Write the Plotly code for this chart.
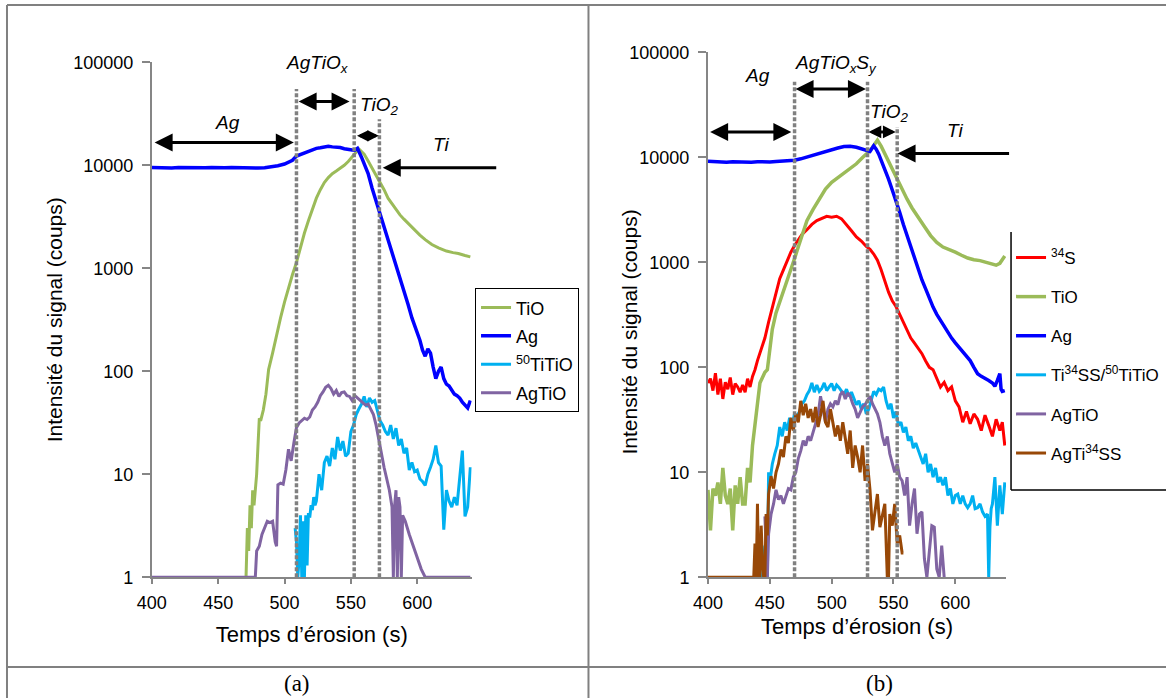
import plotly.graph_objects as go

# ---------------- Panel (a) data ----------------
tA_ag = [400, 405, 410, 415, 420, 425, 430, 435, 440, 445,
         450, 455, 460, 465, 470, 475, 480, 485, 490, 495,
         500, 503, 506, 509, 512, 515, 518, 521, 524, 527,
         530, 533, 536, 539, 542, 545, 548, 551, 553, 555,
         558, 560, 563, 566, 569, 572, 575, 578, 581, 584,
         587, 590, 593, 596, 599, 602, 604, 606, 608, 610,
         612, 614, 616, 618, 620, 622, 624, 626, 628, 630,
         632, 634, 636, 638, 640]
vA_ag = [9500, 9450, 9550, 9400, 9500, 9450, 9500, 9400, 9450, 9500,
         9400, 9450, 9500, 9450, 9400, 9300, 9400, 9450, 9600, 9900,
         10300, 10700, 11200, 12300, 12700, 13100, 13600, 14200, 14600, 14800,
         15100, 15300, 15100, 15000, 14900, 14500, 14200, 14100, 14000, 14600,
         12000, 10500, 8300, 6000, 4500, 3400, 2700, 2000, 1450, 1100,
         850, 620, 450, 330, 260, 200, 160, 140, 165, 150,
         110, 85, 100, 110, 85, 75, 72, 65, 60, 58,
         55, 50, 47, 44, 52]

tA_tio = [471, 472, 473, 474, 475, 476, 477, 478, 479, 480,
          481, 482, 484, 486, 488, 491, 494, 497, 500, 503,
          506, 509, 512, 515, 518, 521, 524, 527, 530, 533,
          536, 539, 542, 545, 548, 551, 554, 556, 558, 560,
          563, 566, 569, 572, 575, 578, 581, 584, 587, 590,
          594, 598, 602, 606, 611, 616, 622, 627, 631, 636,
          640]
vA_tio = [1, 3, 1.8, 5, 3, 7, 5, 7, 10, 19,
          35, 33, 42, 60, 104, 150, 230, 330, 470, 650,
          870, 1140, 1600, 2200, 2900, 3800, 4800, 5800, 6800, 7600,
          8300, 8800, 9300, 10000, 10900, 12200, 13600, 14400, 13600, 12800,
          11000, 9400, 8100, 6900, 5800, 4800, 4200, 3700, 3300, 3000,
          2650, 2350, 2100, 1900, 1700, 1580, 1470, 1420, 1390, 1330,
          1290]

tA_ti50 = [508, 509, 510, 511, 512, 513, 514, 515, 516, 517,
           518, 519, 520, 521, 522, 523, 524, 526, 528, 530,
           532, 534, 536, 538, 540, 542, 544, 546, 548, 550,
           552, 554, 556, 558, 560, 562, 564, 566, 568, 570,
           572, 574, 576, 578, 580, 582, 584, 586, 588, 590,
           592, 594, 596, 598, 600, 602, 604, 606, 608, 610,
           612, 614, 616, 618, 620, 622, 624, 626, 628, 630,
           632, 634, 636, 638, 640]
vA_ti50 = [3, 2.2, 1, 1.5, 4, 1, 3.5, 1, 4, 1.3,
           4.2, 3.8, 5, 4.5, 6, 5, 5.5, 10, 7, 13,
           15, 12, 18, 14, 23, 17, 21, 15, 16, 26,
           30, 38, 43, 48, 57, 45, 55, 50, 52, 40,
           33, 30, 26, 24, 30, 22, 28, 19, 22, 16,
           18, 11, 13, 10.6, 11, 9, 8.5, 7.8, 10, 11.7,
           14, 19, 13, 12, 2.9, 7, 5.5, 4.8, 6, 5,
           10, 17, 3.9, 4.8, 11.7]

tA_agtio = [400, 478, 479, 481, 483, 485, 487, 489, 491, 493,
            494, 495, 497, 499, 501, 503, 505, 507, 509, 511,
            513, 515, 517, 519, 521, 523, 525, 527, 529, 531,
            533, 535, 537, 539, 541, 543, 545, 547, 549, 551,
            553, 555, 557, 559, 561, 563, 565, 567, 569, 571,
            573, 575, 577, 579, 581, 582, 583, 584, 585, 586,
            587, 588, 589, 591, 594, 597, 600, 603, 606, 640]
vA_agtio = [1, 1, 1.8, 2, 2.6, 3, 3.5, 3.4, 3.5, 2.2,
            2, 7.9, 8.2, 8, 11, 17.5, 13.5, 20, 28.5, 31.5,
            33, 35, 34, 36, 42, 45, 50, 58, 63, 70,
            73, 68, 60, 65, 57, 62, 63, 58, 57, 52,
            58, 55, 52, 50, 47, 48, 42, 38, 30, 21,
            16, 11.7, 9, 7, 4.8, 1, 5, 7, 1, 6,
            4.8, 1, 4, 3.5, 2.6, 2, 1.6, 1.2, 1, 1]

# ---------------- Panel (b) data ----------------
tB_s34 = [400, 402, 404, 406, 408, 410, 412, 414, 416, 418,
          420, 422, 424, 426, 428, 430, 432, 434, 436, 438,
          440, 443, 446, 449, 452, 455, 458, 461, 464, 467,
          470, 473, 476, 480, 484, 488, 492, 496, 500, 504,
          508, 512, 516, 520, 524, 528, 531, 534, 537, 540,
          543, 546, 549, 552, 555, 558, 561, 564, 567, 570,
          573, 576, 579, 582, 585, 588, 591, 594, 597, 600,
          603, 606, 609, 612, 615, 618, 621, 624, 627, 630,
          633, 636, 638, 640]
vB_s34 = [71, 78, 60, 88, 55, 78, 50, 72, 62, 80,
          55, 70, 65, 58, 68, 58, 78, 65, 82, 95,
          116, 150, 190, 270, 375, 520, 700, 850, 1050, 1250,
          1450, 1650, 1850, 2050, 2300, 2500, 2600, 2750, 2700, 2750,
          2600, 2300, 2000, 1750, 1600, 1420, 1330, 1200, 1050, 850,
          650, 520, 430, 380, 320, 270, 230, 190, 170, 150,
          135, 115, 100, 95, 80, 65, 72, 60, 65, 48,
          42, 30, 38, 29, 36, 32, 25, 35, 28, 22,
          32, 25, 30, 18]

tB_tio = [400, 402, 404, 406, 408, 410, 412, 414, 416, 418,
          420, 422, 424, 426, 428, 430, 432, 434, 436, 438,
          440, 442, 444, 446, 448, 450, 452, 455, 458, 461,
          464, 467, 470, 473, 476, 480, 485, 490, 495, 500,
          505, 510, 515, 520, 525, 530, 533, 535, 537, 540,
          543, 546, 549, 552, 555, 558, 561, 565, 570, 575,
          580, 585, 590, 595, 600, 605, 610, 615, 620, 625,
          630, 633, 636, 638, 640]
vB_tio = [6.8, 2.8, 7, 6, 8, 5, 11, 6, 5, 7,
          2.8, 7.5, 5, 9, 5, 5, 11, 8, 18, 27,
          45, 71, 80, 90, 95, 150, 230, 330, 415, 550,
          670, 850, 1090, 1400, 1780, 2500, 3200, 4000, 5000, 5800,
          6400, 7000, 7700, 8700, 10000, 11300, 12500, 13600, 14600, 12800,
          10800, 9000, 7600, 6500, 5500, 4700, 4000, 3300, 2650, 2200,
          1800, 1550, 1400, 1330, 1250, 1170, 1100, 1060, 1040, 1000,
          960, 940, 980, 1050, 1150]

tB_ag = [400, 405, 410, 415, 420, 425, 430, 435, 440, 445,
         450, 455, 460, 465, 470, 475, 480, 485, 490, 495,
         500, 505, 510, 515, 520, 525, 528, 531, 534, 536,
         538, 540, 543, 546, 549, 552, 555, 558, 561, 564,
         567, 570, 573, 576, 579, 582, 585, 588, 591, 594,
         597, 600, 603, 606, 609, 612, 615, 618, 621, 624,
         627, 630, 632, 634, 636, 637, 638, 640]
vB_ag = [9200, 9100, 9150, 9000, 9100, 9050, 8950, 9000, 9100, 9000,
         9050, 9150, 9200, 9300, 9400, 9700, 10100, 10500, 11000, 11500,
         11900, 12300, 12700, 12800, 12500, 12000, 11500, 11400, 12900, 12000,
         10800, 9500, 7800, 6200, 4900, 3900, 3000, 2300, 1800, 1400,
         1100, 850, 680, 560, 450, 375, 320, 280, 240, 210,
         190, 171, 155, 141, 128, 116, 100, 87, 82, 79,
         75, 71, 66, 75, 87, 62, 59, 60]

tB_ti = [444, 446, 448, 449, 450, 452, 454, 456, 458, 460,
         462, 464, 466, 468, 470, 472, 474, 476, 478, 480,
         482, 484, 486, 488, 490, 492, 494, 496, 498, 500,
         502, 504, 506, 508, 510, 512, 514, 516, 518, 520,
         522, 524, 526, 528, 530, 532, 534, 536, 538, 540,
         542, 544, 546, 548, 550, 552, 554, 556, 558, 560,
         562, 564, 566, 568, 570, 572, 574, 576, 578, 580,
         582, 584, 586, 588, 590, 592, 594, 596, 598, 600,
         602, 604, 606, 608, 610, 612, 614, 616, 618, 620,
         622, 624, 626, 627, 628, 629, 630, 632, 634, 636,
         638, 640]
vB_ti = [1, 2, 1, 10, 8, 12, 15, 18, 27, 22,
         30, 25, 33, 28, 36, 34, 38, 45, 48, 55,
         60, 71, 58, 68, 59, 63, 71, 60, 65, 70,
         60, 68, 64, 59, 55, 62, 53, 58, 50, 44,
         48, 40, 45, 36, 40, 50, 59, 55, 62, 60,
         65, 48, 40, 45, 33, 38, 28, 30, 24, 27,
         20, 22, 17, 19, 16, 14, 12, 15, 10, 12,
         9, 11, 8, 9, 7.5, 9, 6, 7, 5, 6,
         6.2, 5, 6, 5, 4.6, 5, 6, 4.5, 4.6, 5,
         4.2, 3.8, 4, 1, 3, 4.5, 5, 9, 3.1, 7.5,
         4, 8]

tB_agtio = [446, 447, 448, 449, 451, 453, 455, 457, 459, 461,
            463, 465, 467, 469, 471, 473, 475, 477, 479, 481,
            483, 485, 487, 489, 491, 493, 495, 497, 499, 501,
            503, 505, 507, 509, 511, 513, 515, 517, 519, 521,
            523, 525, 527, 529, 531, 533, 535, 537, 539, 541,
            543, 545, 547, 549, 551, 553, 555, 557, 559, 561,
            563, 565, 567, 569, 571, 573, 575, 577, 579, 581,
            583, 585, 587, 589, 591]
vB_agtio = [3.8, 1.5, 1, 2.6, 4, 5, 6.8, 5.5, 6, 5,
            6, 7, 6.8, 9, 10, 13.5, 16, 20, 18, 22,
            20, 24, 28, 35, 53, 40, 30, 40, 45, 42,
            48, 44, 55, 59, 50, 57, 53, 45, 40, 33,
            38, 42, 44, 48, 53, 45, 40, 36, 30, 22,
            18, 22, 15, 12, 10, 12, 9, 8.3, 6, 9,
            3.1, 5, 7, 2.6, 4, 4.2, 1.5, 1, 1.9, 3.1,
            3, 1.2, 1, 2, 1]

tB_br = [400, 437, 438, 439, 440, 441, 442, 443, 444, 445,
         446, 447, 448, 449, 451, 453, 455, 457, 459, 461,
         463, 465, 467, 469, 471, 473, 475, 477, 479, 481,
         483, 485, 487, 489, 491, 493, 495, 497, 499, 501,
         503, 505, 507, 509, 511, 513, 515, 517, 519, 521,
         523, 525, 527, 529, 531, 533, 535, 537, 539, 541,
         543, 545, 546, 547, 549, 551, 553, 555, 557, 558]
vB_br = [1, 1, 2.1, 1, 5, 1, 1, 3.1, 1.5, 1,
         1, 4, 2.5, 6.2, 9.2, 7, 10, 12, 16.5, 14,
         22, 19, 33, 25, 36, 30, 48, 35, 45, 33,
         40, 30, 42, 27, 35, 48, 30, 27, 40, 30,
         22, 28, 20, 30, 22, 15, 25, 11, 18, 14,
         10, 18, 8.3, 12, 6.8, 2.8, 4.2, 6.2, 3, 4,
         5, 1, 1, 4, 3.1, 5, 2.1, 2.5, 1.7, 1.7]

# zone boundaries (s) and the top of each dashed line (counts)
a_bounds = [509, 552.5, 571.5]
a_tops = [55000, 55000, 28000]
b_bounds = [470, 529, 553]
b_tops = [52500, 52500, 19500]

x_ticks = [400, 450, 500, 550, 600]
y_ticks = [1, 10, 100, 1000, 10000, 100000]
y_ticktext = ["1", "10", "100", "1000", "10000", "100000"]

C_TIO = "#9BBB59"
C_AG = "#0000FF"
C_TI50 = "#00B0F0"
C_AGTIO = "#8064A2"
C_S = "#FF0000"
C_BR = "#984807"
GRAY = "#808080"
FONT = "Liberation Sans, Arial, sans-serif"

fig = go.Figure()


def add(x, y, name, color, xa, ya, legend, width=3):
    fig.add_trace(go.Scatter(
        x=x, y=y, mode="lines", name=name,
        line=dict(color=color, width=width),
        xaxis=xa, yaxis=ya, legend=legend,
        legendgroup=legend + name, showlegend=True,
        hoverinfo="x+y+name"))


add(tA_tio, vA_tio, "TiO", C_TIO, "x", "y", "legend")
add(tA_ag, vA_ag, "Ag", C_AG, "x", "y", "legend", 3.5)
add(tA_ti50, vA_ti50, "<sup>50</sup>TiTiO", C_TI50, "x", "y", "legend")
add(tA_agtio, vA_agtio, "AgTiO", C_AGTIO, "x", "y", "legend")

add(tB_s34, vB_s34, "<sup>34</sup>S", C_S, "x2", "y2", "legend2")
add(tB_tio, vB_tio, "TiO", C_TIO, "x2", "y2", "legend2", 3.5)
add(tB_ag, vB_ag, "Ag", C_AG, "x2", "y2", "legend2", 3.5)
add(tB_ti, vB_ti, "Ti<sup>34</sup>SS/<sup>50</sup>TiTiO", C_TI50, "x2", "y2", "legend2")
add(tB_agtio, vB_agtio, "AgTiO", C_AGTIO, "x2", "y2", "legend2")
add(tB_br, vB_br, "AgTi<sup>34</sup>SS", C_BR, "x2", "y2", "legend2")

# dashed zone boundaries
for xs, tops, xa, ya in [(a_bounds, a_tops, "x", "y"), (b_bounds, b_tops, "x2", "y2")]:
    for xv, top in zip(xs, tops):
        fig.add_trace(go.Scatter(
            x=[xv, xv], y=[1, top], mode="lines", showlegend=False,
            line=dict(color=GRAY, width=3.5, dash="4px,2px"),
            xaxis=xa, yaxis=ya, hoverinfo="skip"))

axis_common = dict(showline=True, linecolor="#868686", linewidth=2,
                   ticks="outside", tickcolor="#868686", tickwidth=2,
                   showgrid=False, zeroline=False,
                   tickfont=dict(family=FONT, size=18, color="black"))

fig.update_layout(
    width=1166, height=698,
    margin=dict(l=0, r=0, t=0, b=0, autoexpand=False),
    paper_bgcolor="white", plot_bgcolor="white",
    font=dict(family=FONT, color="black"),
    xaxis=dict(domain=[0.1302, 0.4045], range=[400, 641], anchor="y",
               tickmode="array", tickvals=x_ticks, ticklen=5,
               ticklabelstandoff=3,
               title=dict(text="Temps d’érosion (s)", font=dict(size=22), standoff=15),
               automargin=True, **axis_common),
    yaxis=dict(domain=[0.1730, 0.9107], type="log", range=[0, 5], anchor="x",
               tickmode="array", tickvals=y_ticks, ticktext=y_ticktext, ticklen=8,
               ticklabelstandoff=5,
               title=dict(text="Intensité du signal (coups)", font=dict(size=21), standoff=5),
               automargin=True, **axis_common),
    xaxis2=dict(domain=[0.6072, 0.8628], range=[400, 641], anchor="y2",
                tickmode="array", tickvals=x_ticks, ticklen=5,
                ticklabelstandoff=3,
                title=dict(text="Temps d’érosion (s)", font=dict(size=22), standoff=7),
                automargin=True, **axis_common),
    yaxis2=dict(domain=[0.1730, 0.9248], type="log", range=[0, 5], anchor="x2",
                tickmode="array", tickvals=y_ticks, ticktext=y_ticktext, ticklen=8,
                ticklabelstandoff=5, automargin=True, **axis_common),
    legend=dict(x=0.4074, y=0.587, xanchor="left", yanchor="top",
                bordercolor="black", borderwidth=1, bgcolor="white",
                font=dict(size=18), tracegroupgap=2, traceorder="grouped"),
    legend2=dict(x=0.8671, y=0.6562, xanchor="left", yanchor="top",
                 borderwidth=0, bgcolor="rgba(255,255,255,0)",
                 font=dict(size=17), tracegroupgap=14, traceorder="grouped"),
    showlegend=True,
)

shapes = []
line_style = dict(color=GRAY, width=2)
# table frame
shapes.append(dict(type="line", xref="paper", yref="paper", x0=0.006, x1=0.006, y0=0, y1=0.9928, line=line_style))
shapes.append(dict(type="line", xref="paper", yref="paper", x0=0.006, x1=1, y0=0.9928, y1=0.9928, line=line_style))
shapes.append(dict(type="line", xref="paper", yref="paper", x0=0.5047, x1=0.5047, y0=0, y1=0.9928, line=line_style))
shapes.append(dict(type="line", xref="paper", yref="paper", x0=0.006, x1=1, y0=0.0444, y1=0.0444, line=line_style))
# legend (b) frame (left and bottom edges)
shapes.append(dict(type="line", xref="paper", yref="paper", x0=0.8671, x1=0.8671, y0=0.2980, y1=0.6676,
                   line=dict(color="black", width=1.5)))
shapes.append(dict(type="line", xref="paper", yref="paper", x0=0.8671, x1=1, y0=0.2980, y1=0.2980,
                   line=dict(color="black", width=1.5)))
fig.update_layout(shapes=shapes)

ann = []
lab_font = dict(family=FONT, size=19, color="black")


def label(text, x, y, xr, yr):
    ann.append(dict(text=text, x=x, y=y, xref=xr, yref=yr, showarrow=False, font=lab_font))


def darrow(x0, x1, y, xr, yr, size=1.2):
    ann.append(dict(text="", x=x1, y=y, ax=x0, ay=y, xref=xr, yref=yr, axref=xr, ayref=yr,
                    showarrow=True, arrowhead=2, arrowsize=size, arrowwidth=3,
                    arrowside="end+start", arrowcolor="black", standoff=0, startstandoff=0))


def sarrow(x, y, dx, xr, yr):
    ann.append(dict(text="", x=x, y=y, ax=dx, ay=0, xref=xr, yref=yr,
                    showarrow=True, arrowhead=2, arrowsize=1.2, arrowwidth=3,
                    arrowcolor="black", standoff=0))


# panel (a) annotations (y in log10 units)
label("<i>Ag</i>", 457.4, 4.42, "x", "y")
label("<i>AgTiO<sub>x</sub></i>", 525, 4.98, "x", "y")
label("<i>TiO<sub>2</sub></i>", 571, 4.576, "x", "y")
label("<i>Ti</i>", 618, 4.2, "x", "y")
darrow(401, 507, 4.222, "x", "y")
darrow(509.5, 549, 4.62, "x", "y")
darrow(553.5, 571, 4.287, "x", "y", 0.75)
sarrow(574, 3.976, 115, "x", "y")

# panel (b) annotations
label("<i>Ag</i>", 440.3, 4.78, "x2", "y2")
label("<i>AgTiO<sub>x</sub>S<sub>y</sub></i>", 503.6, 4.886, "x2", "y2")
label("<i>TiO<sub>2</sub></i>", 546.4, 4.419, "x2", "y2")
label("<i>Ti</i>", 600, 4.26, "x2", "y2")
darrow(400.5, 467.4, 4.243, "x2", "y2")
darrow(469.6, 527.7, 4.652, "x2", "y2")
darrow(528.6, 551.8, 4.243, "x2", "y2", 0.85)
sarrow(553.3, 4.037, 113, "x2", "y2")

# y-axis title of panel (b), placed close to its tick labels as in the original
ann.append(dict(text="Intensité du signal (coups)", x=629.5 / 1166, y=1 - 332 / 698,
                xref="paper", yref="paper", showarrow=False, textangle=-90,
                xanchor="center", yanchor="middle",
                font=dict(family=FONT, size=21, color="black")))

# panel captions
cap_font = dict(family="Liberation Serif, Times New Roman, serif", size=23, color="black")
ann.append(dict(text="(a)", x=297 / 1166, y=1 - 683 / 698, xref="paper", yref="paper",
                showarrow=False, xanchor="center", yanchor="middle", font=cap_font))
ann.append(dict(text="(b)", x=879 / 1166, y=1 - 683 / 698, xref="paper", yref="paper",
                showarrow=False, xanchor="center", yanchor="middle", font=cap_font))

fig.update_layout(annotations=ann)

fig.write_html("out.html", config={"displayModeBar": False},
               post_script="document.body.style.margin='0px';")
